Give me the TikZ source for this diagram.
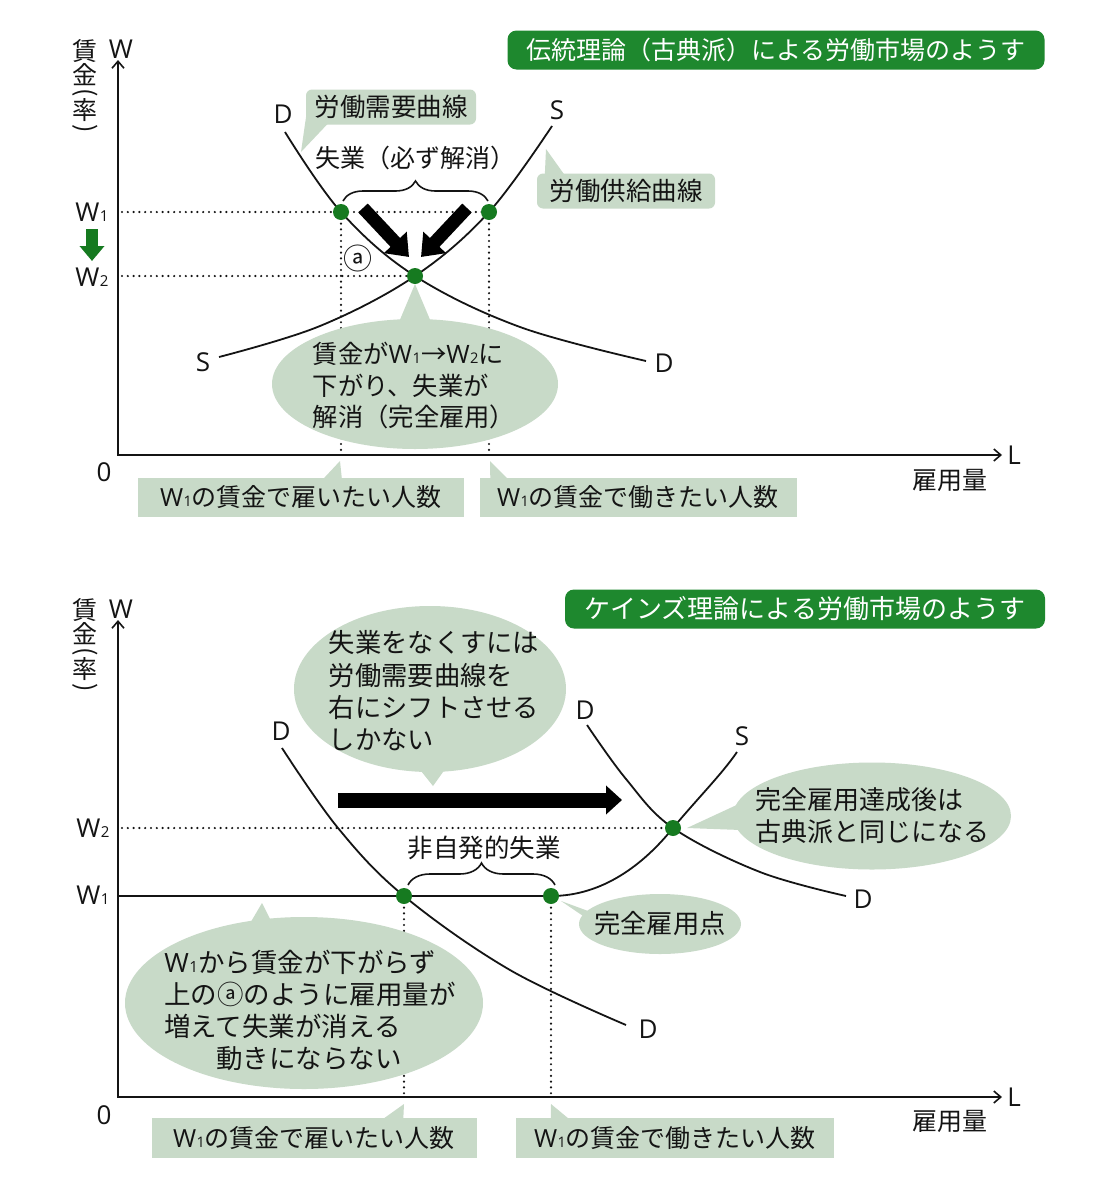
\documentclass[tikz,border=0pt]{standalone}
\usepackage{fontspec}
\setmainfont{Noto Sans CJK JP}
\newfontfamily\lat{Open Sans}
\usetikzlibrary{arrows.meta,decorations.pathreplacing,shapes.geometric,calc}
\definecolor{callout}{RGB}{200,218,200}
\definecolor{titlegreen}{RGB}{30,136,46}
\definecolor{dotgreen}{RGB}{22,122,32}
\definecolor{ink}{RGB}{20,20,20}
\newcommand\Wn[1]{{\lat W\kern0.5pt\scalebox{0.58}{#1}}}
\newcommand\vlab{\vbox{\baselineskip=0pt\lineskip=0pt\lineskiplimit=0pt
 \hbox to 26pt{\hss 賃\hss}\kern1pt
 \hbox to 26pt{\hss 金\hss}\kern3pt
 \hbox to 26pt{\hss\rotatebox{-90}{(}\hss}\kern2pt
 \hbox to 26pt{\hss 率\hss}\kern2pt
 \hbox to 26pt{\hss\rotatebox{-90}{)}\hss}}}
\begin{document}
\begin{tikzpicture}[x=1pt,y=-1pt,
  every node/.style={text=ink},
  t/.style={font=\fontsize{25}{31.5}\selectfont, inner sep=0pt},
  tb/.style={font=\fontsize{26.3}{32.3}\selectfont, inner sep=0pt},
  big/.style={font=\fontsize{26}{30}\selectfont\lat, inner sep=0pt},
  axis/.style={line width=2pt, draw=ink, {Straight Barb[length=7pt,width=12pt,line width=1.6pt]}-{Straight Barb[length=7pt,width=12pt,line width=1.6pt]}},
  curve/.style={line width=1.8pt, draw=ink},
  dots/.style={line width=2.4pt, dash pattern=on 0pt off 5.8pt, line cap=round, draw=ink},
  bubble/.style={fill=callout, draw=none},
  rbox/.style={bubble, rounded corners=6pt, inner sep=0pt},
  sbox/.style={bubble, inner sep=0pt},
  ebub/.style={bubble, ellipse, inner sep=0pt},
  ptg/.style={circle, fill=dotgreen, minimum size=16pt, inner sep=0pt},
  title/.style={fill=titlegreen, rounded corners=9pt, text=white, inner sep=0pt},
  fat/.style={line width=13pt, draw=black, -{Triangle[length=20pt,width=30pt]}},
]
\useasboundingbox (0,0) rectangle (1106,1186);
\fill[white] (0,0) rectangle (1106,1186);

%%%%%%%%%%%%%%%%%%%% TOP DIAGRAM %%%%%%%%%%%%%%%%%%%%
\node[title, minimum width=537pt, minimum height=39pt, font=\fontsize{25}{30}\selectfont] (ttl1) at (776,50) {伝統理論（古典派）による労働市場のようす};

\coordinate (O1) at (118,455);
\coordinate (Y1) at (118,60);
\coordinate (X1) at (1002,455);
\draw[axis] (Y1) -- (O1) -- (X1);
\node[inner sep=0pt, anchor=north, font=\fontsize{25}{30}\selectfont] (yl1) at (85,39) {\vlab};
\node[big] (Wt1) at (121,49) {W};
\node[big] (Lt1) at (1014,455) {L};
\node[big] (z1) at (104,472) {0};
\node[t] (em1) at (950,480) {雇用量};
\node[big] (w1a) at (92,212) {\Wn{1}};
\node[big] (w2a) at (92,277) {\Wn{2}};
\coordinate (ga1) at (92,229);
\coordinate (ga2) at (92,261);
\draw[line width=12pt, draw=dotgreen, -{Triangle[length=15pt,width=24pt]}] (ga1) -- (ga2);

\coordinate (pA) at (341,212);
\coordinate (pB) at (489,212);
\coordinate (pE) at (415,276);
\coordinate (aw1) at (122,212);
\coordinate (aw2) at (122,276);

% dotted guides
\draw[dots] (aw1) -- (pB);
\draw[dots] (aw2) -- (pE);
\draw[dots] (pA) -- (pA |- O1);
\draw[dots] (pB) -- (pB |- O1);

% curves
\coordinate (d1) at (285,132);
\coordinate (d2) at (520,327);
\coordinate (d3) at (646,361);
\coordinate (s1) at (552,126);
\coordinate (s2) at (320,326);
\coordinate (s3) at (219,357);
\draw[curve] plot[smooth, tension=0.6] coordinates {(d1) (pA) (pE) (d2) (d3)};
\draw[curve] plot[smooth, tension=0.6] coordinates {(s1) (pB) (pE) (s2) (s3)};
\node[big] (Dl1) at (283,114) {D};
\node[big] (Su1) at (557,110) {S};
\node[big] (Sl1) at (203,362) {S};
\node[big] (Dr1) at (664,363) {D};

% brace and text
\node[t, font=\fontsize{25}{30}\selectfont] (un1) at (415,158) {失業（必ず解消）};
\coordinate (br1) at (343,201);
\coordinate (br2) at (488,201);
\draw[line width=1.6pt, draw=ink, decorate, decoration={brace, amplitude=20pt}] (br1) -- (br2);

% fat arrows
\coordinate (fa1) at (363,208);
\coordinate (fb1) at (409,257);
\coordinate (fa2) at (467,208);
\coordinate (fb2) at (421,257);
\draw[fat] (fa1) -- (fb1);
\draw[fat] (fa2) -- (fb2);
\node[t, font=\fontsize{29}{30}\selectfont] (circa) at (358,258) {ⓐ};

% points
\node[ptg] (A) at (pA) {};
\node[ptg] (B) at (pB) {};
\node[ptg] (E) at (pE) {};

% callouts
\node[rbox, minimum width=170pt, minimum height=35pt] (b1) at (391,107) {};
\node[t, font=\fontsize{25.5}{30}\selectfont] (b1t) at (b1) {労働需要曲線};
\coordinate (tb1) at (301,152);
\fill[callout] ($(b1.south west)+(1,-13)$) -- (tb1) -- ($(b1.south west)+(22,-1)$) -- cycle;

\node[rbox, minimum width=178pt, minimum height=35pt] (b2) at (626,191) {};
\node[t, font=\fontsize{25.5}{30}\selectfont] (b2t) at (b2) {労働供給曲線};
\coordinate (tb2) at (546,149);
\fill[callout] ($(b2.north west)+(8,2)$) -- (tb2) -- ($(b2.north west)+(28,2)$) -- cycle;

\node[ebub, minimum width=286pt, minimum height=130pt] (c1) at (415,384) {};
\coordinate (tc1) at (415,284);
\fill[callout] ($(c1.north)+(-18,8)$) -- (tc1) -- ($(c1.north)+(18,8)$) -- cycle;
\node[t, align=left, font=\fontsize{25.3}{31.5}\selectfont] (c1t) at (414,386) {賃金が\Wn{1}→\Wn{2}に\\下がり、失業が\\解消（完全雇用）};

\node[sbox, minimum width=326pt, minimum height=39pt] (b3) at (301,497) {};
\node[t] (b3t) at (b3) {\Wn{1}の賃金で雇いたい人数};
\coordinate (tb3) at (340,461);
\fill[callout] ($(b3.north west)+(186,1)$) -- (tb3) -- ($(b3.north west)+(204,1)$) -- cycle;

\node[sbox, minimum width=317pt, minimum height=39pt] (b4) at (638,497) {};
\node[t] (b4t) at (b4) {\Wn{1}の賃金で働きたい人数};
\coordinate (tb4) at (490,461);
\fill[callout] ($(b4.north west)+(11,1)$) -- (tb4) -- ($(b4.north west)+(28,1)$) -- cycle;

%%%%%%%%%%%%%%%%%%%% BOTTOM DIAGRAM %%%%%%%%%%%%%%%%%%%%
\node[title, minimum width=480pt, minimum height=39pt, font=\fontsize{26}{30}\selectfont] (ttl2) at (805,609) {ケインズ理論による労働市場のようす};

\coordinate (O2) at (118,1097);
\coordinate (Y2) at (118,620);
\coordinate (X2) at (1002,1097);
\draw[axis] (Y2) -- (O2) -- (X2);
\node[inner sep=0pt, anchor=north, font=\fontsize{25}{30}\selectfont] (yl2) at (85,598) {\vlab};
\node[big] (Wt2) at (121,609) {W};
\node[big] (Lt2) at (1014,1097) {L};
\node[big] (z2) at (104,1115) {0};
\node[t] (em2) at (950,1121) {雇用量};
\node[big] (w2b) at (93,828) {\Wn{2}};
\node[big] (w1b) at (93,895) {\Wn{1}};

\coordinate (pF) at (404,896);
\coordinate (pG) at (551,896);
\coordinate (pH) at (673,828);
\coordinate (aw3) at (122,828);
\coordinate (ax3) at (118,896);

\draw[dots] (aw3) -- (pH);
\draw[dots] (pF) -- (pF |- O2);
\draw[dots] (pG) -- (pG |- O2);

% curves
\coordinate (e1) at (282,748);
\coordinate (e2) at (338,828);
\coordinate (e3) at (510,970);
\coordinate (e4) at (626,1025);
\draw[curve] plot[smooth, tension=0.6] coordinates {(e1) (e2) (pF) (e3) (e4)};
\coordinate (f1) at (587,725);
\coordinate (f2) at (626,779);
\coordinate (f3) at (760,872);
\coordinate (f4) at (846,896);
\draw[curve] plot[smooth, tension=0.6] coordinates {(f1) (f2) (pH) (f3) (f4)};
\coordinate (g3) at (737,752);
\draw[curve] (ax3) -- (pG) .. controls (603,896) and (644,864) .. (pH) .. controls (697,799) and (722,774) .. (g3);

\node[big] (D1a) at (281,731) {D};
\node[big] (D1b) at (648,1029) {D};
\node[big] (D2a) at (585,710) {D};
\node[big] (D2b) at (863,899) {D};
\node[big] (S2a) at (742,736) {S};

% brace
\node[t, font=\fontsize{25.5}{30}\selectfont] (un2) at (484,848) {非自発的失業};
\coordinate (br3) at (408,885);
\coordinate (br4) at (555,885);
\draw[line width=1.6pt, draw=ink, decorate, decoration={brace, amplitude=22pt}] (br3) -- (br4);

% big arrow
\coordinate (ha) at (338,800);
\coordinate (hb) at (622,800);
\draw[line width=15pt, draw=black, -{Triangle[length=16pt,width=28pt]}] (ha) -- (hb);

% points
\node[ptg] (F) at (pF) {};
\node[ptg] (G) at (pG) {};
\node[ptg] (H) at (pH) {};

% callouts
\node[ebub, minimum width=272pt, minimum height=166pt] (c2) at (430,689) {};
\coordinate (tc2) at (433,786);
\fill[callout] ($(c2.south)+(-16,-10)$) -- (tc2) -- ($(c2.south)+(20,-10)$) -- cycle;
\node[tb, align=left] (c2t) at (434,691) {失業をなくすには\\労働需要曲線を\\右にシフトさせる\\しかない};

\node[ebub, minimum width=278pt, minimum height=107pt] (c3) at (872,816) {};
\coordinate (tc3) at (687,828);
\fill[callout] ($(c3.west)+(6,-12)$) -- (tc3) -- ($(c3.west)+(8,14)$) -- cycle;
\node[tb, align=left, font=\fontsize{26}{32}\selectfont] (c3t) at (872,816) {完全雇用達成後は\\古典派と同じになる};

\node[ebub, minimum width=162pt, minimum height=60pt] (c5) at (660,924) {};
\coordinate (tc5) at (561,901);
\fill[callout] ($(c5.west)+(12,-12)$) -- (tc5) -- ($(c5.west)+(22,4)$) -- cycle;
\node[tb] (c5t) at (c5) {完全雇用点};

\node[ebub, minimum width=358pt, minimum height=172pt] (c4) at (304,1003) {};
\coordinate (tc4) at (262,903);
\fill[callout] ($(c4.north)+(-56,10)$) -- (tc4) -- ($(c4.north)+(-30,10)$) -- cycle;
\node[tb, align=left, font=\fontsize{26.5}{32}\selectfont] (c4t) at (310,1010) {\Wn{1}から賃金が下がらず\\上のⓐのように雇用量が\\増えて失業が消える\\\hspace{52pt}動きにならない};

\node[sbox, minimum width=325pt, minimum height=40pt] (b5) at (314,1138) {};
\node[t] (b5t) at (b5) {\Wn{1}の賃金で雇いたい人数};
\coordinate (tb5) at (404,1104);
\fill[callout] ($(b5.north west)+(232,1)$) -- (tb5) -- ($(b5.north west)+(252,1)$) -- cycle;

\node[sbox, minimum width=318pt, minimum height=40pt] (b6) at (675,1138) {};
\node[t] (b6t) at (b6) {\Wn{1}の賃金で働きたい人数};
\coordinate (tb6) at (551,1104);
\fill[callout] ($(b6.north west)+(35,1)$) -- (tb6) -- ($(b6.north west)+(53,1)$) -- cycle;
\end{tikzpicture}
\end{document}
